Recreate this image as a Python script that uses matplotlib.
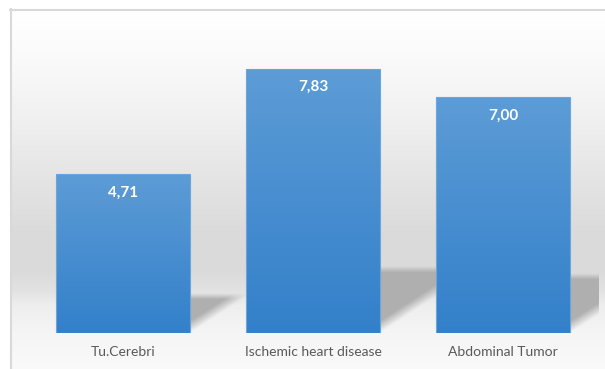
import numpy as np
import matplotlib
matplotlib.use("Agg")
import matplotlib.pyplot as plt
from matplotlib.colors import LinearSegmentedColormap

categories = ["Tu.Cerebri", "Ischemic heart disease", "Abdominal Tumor"]
values = [4.71, 7.83, 7.00]
value_labels = ["4,71", "7,83", "7,00"]

W, H = 605, 369
fig = plt.figure(figsize=(W / 100, H / 100), dpi=100)
fig.patch.set_facecolor("white")

# ---- chart-area background (gradient) ----
bg = fig.add_axes([0, 0, 1, 1])
bg.set_xlim(0, W)
bg.set_ylim(H, 0)
bg.axis("off")
ys = np.arange(0, H)
stops_y = [9, 60, 120, 170, 230, 270, 290, 305, 333, 369]
stops_v = [255, 250, 240, 230, 219, 218, 226, 238, 245, 250]
gv = np.interp(ys, stops_y, stops_v) / 255.0
grad = np.repeat(gv[:, None], 2, axis=1)
img = np.dstack([grad, grad, grad])
bg.imshow(img, extent=[10, W, H, 0], aspect="auto", interpolation="bilinear", zorder=0)
bg.plot([10.5, 10.5], [9, H], color="#d9d9d9", lw=1.5, zorder=1)
bg.plot([10, W], [9.5, 9.5], color="#d9d9d9", lw=1.5, zorder=1)
bg.set_xlim(0, W)
bg.set_ylim(H, 0)

# ---- plot area ----
left, right, top, base = 28, 598, 29, 333
ax = fig.add_axes([left / W, (H - base) / H, (right - left) / W, (base - top) / H])
ax.set_facecolor("none")
ax.set_xlim(-0.5, 2.5)
ax.set_ylim(0, 9)
for s in ax.spines.values():
    s.set_visible(False)
ax.set_yticks([])

x = np.arange(len(categories))
bar_w = 0.705
bars = ax.bar(x, values, width=bar_w, color="none", edgecolor="#6aa6dc", linewidth=0.8, zorder=3)

px_per_x = (right - left) / 3.0
px_per_y = (base - top) / 9.0
slope_px = 0.65  # shadow diagonal slope (pixel units)

cmap = LinearSegmentedColormap.from_list("barblue", ["#3380ca", "#5d9cd6"])
for rect, v in zip(bars, values):
    x0 = rect.get_x()
    x1 = x0 + rect.get_width()
    # gradient fill
    g = np.linspace(0, 1, 256)[:, None]
    im = ax.imshow(g, extent=[x0, x1, 0, v], origin="lower", cmap=cmap, aspect="auto",
                   interpolation="bilinear", zorder=2)
    im.set_clip_path(rect)
    # perspective shadow to the right
    sh_h = 0.25 * v
    sh_w = (sh_h * px_per_y / slope_px) / px_per_x
    nx, ny = 200, 120
    gx = np.linspace(0, sh_w, nx)
    gy = np.linspace(0, sh_h, ny)
    XX, YY = np.meshgrid(gx, gy)
    ppx = XX * px_per_x
    ppy = YY * px_per_y
    d_top = (sh_h - YY) * px_per_y
    d_diag = (ppy - slope_px * ppx) / np.sqrt(1 + slope_px ** 2)
    a = np.clip(d_top / 6.0, 0, 1) * np.clip(d_diag / 10.0, 0, 1)
    rgba = np.zeros((ny, nx, 4))
    rgba[..., :3] = 0.69
    rgba[..., 3] = a
    ax.imshow(rgba, extent=[x1, x1 + sh_w, 0, sh_h], origin="lower", aspect="auto",
              interpolation="bilinear", zorder=1)

for xi, v, lab in zip(x, values, value_labels):
    ax.annotate(lab, xy=(xi, v), xytext=(0, -13.5), textcoords="offset points",
                ha="center", va="center", color="white", fontsize=11,
                fontweight="bold", family="Lato", zorder=5)

ax.set_xticks(x)
ax.set_xticklabels(categories, fontsize=10, color="#595959", family="Lato")
ax.tick_params(axis="x", length=0, pad=9.5)
ax.set_xlim(-0.5, 2.5)
ax.set_ylim(0, 9)

fig.savefig("out.png", dpi=100, facecolor="white")
